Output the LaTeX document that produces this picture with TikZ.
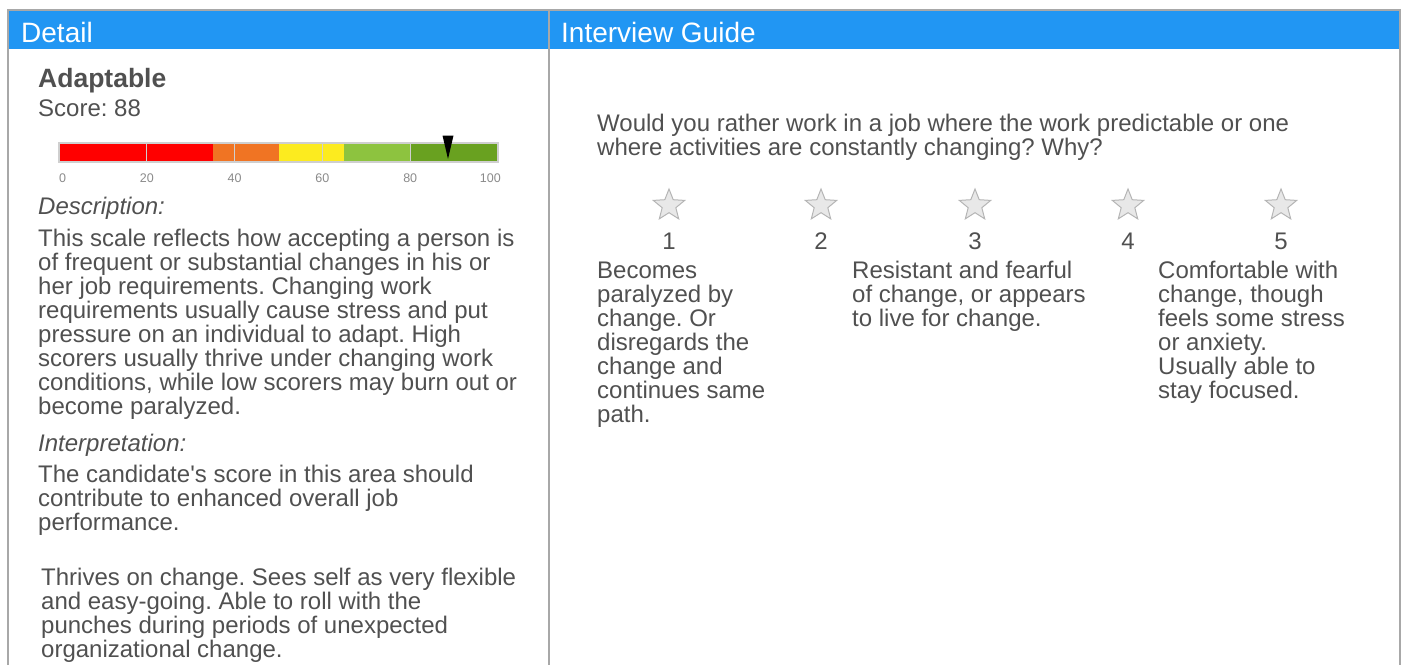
\documentclass[tikz,border=0pt]{standalone}
\usepackage{fontspec}
\setmainfont{Liberation Sans}
\usetikzlibrary{shapes.geometric}
\frenchspacing

\definecolor{headblue}{HTML}{2196F3}
\definecolor{framegray}{HTML}{A8A8A8}
\definecolor{txtgray}{HTML}{505050}
\definecolor{tickgray}{HTML}{8A8A8A}
\definecolor{sepgray}{HTML}{CFCFCF}
\definecolor{stargray}{HTML}{B5B5B5}
\definecolor{starfill}{HTML}{E8E8E8}
\definecolor{barred}{HTML}{FF0000}
\definecolor{barorange}{HTML}{F07423}
\definecolor{baryellow}{HTML}{FCEB1F}
\definecolor{barlight}{HTML}{8DC33F}
\definecolor{bardark}{HTML}{69A120}

\begin{document}
\begin{tikzpicture}[x=1pt, y=-1pt,
        txt/.style={anchor=base west, inner sep=0pt, align=left, text=txtgray,
            font=\fontsize{24}{24}\selectfont},
        head/.style={anchor=base west, inner sep=0pt, text=white,
            font=\fontsize{28}{28}\selectfont},
        tick/.style={anchor=base, inner sep=0pt, text=tickgray,
            font=\fontsize{12.5}{12.5}\selectfont},
        num/.style={anchor=base, inner sep=0pt, text=txtgray,
            font=\fontsize{24}{24}\selectfont},
        rating/.style={shape=star, star points=5, star point ratio=2.3,
            draw=stargray, fill=starfill, line width=1pt,
            minimum size=33pt, inner sep=0pt}]
        \useasboundingbox (0, 0) rectangle (1404, 665);

        % header bands and frame
        \fill[headblue] (9, 10.5) rectangle (1399, 49);
        \draw[framegray, line width=2pt] (8, 665) -- (8, 9.5) -- (1400, 9.5) -- (1400, 665);
        \draw[framegray, line width=2pt] (549, 9.5) -- (549, 665);

        \node[head] (detailhead) at (21, 42) {Detail};
        \node[head] (guidehead) at (561, 42) {Interview Guide};

        % left panel (multi-line texts sit on their last baseline)
        \node[txt, font=\bfseries\fontsize{26.5}{26.5}\selectfont] (trait) at (38, 87) {Adaptable};
        \node[txt] (score) at (38, 116) {Score: 88};

        % score bar
        \fill[barred] (59, 143) rectangle (212.7, 162);
        \fill[barorange] (212.7, 143) rectangle (278.5, 162);
        \fill[baryellow] (278.5, 143) rectangle (344.4, 162);
        \fill[barlight] (344.4, 143) rectangle (410.2, 162);
        \fill[bardark] (410.2, 143) rectangle (498, 162);
        \draw[sepgray, line width=1.2pt] (146.8, 143) -- (146.8, 162);
        \draw[sepgray, line width=1.2pt] (234.6, 143) -- (234.6, 162);
        \draw[sepgray, line width=1.2pt] (322.4, 143) -- (322.4, 162);
        \draw[sepgray, line width=1.2pt] (410.2, 143) -- (410.2, 162);
        \draw[sepgray, line width=1.2pt] (59, 143) rectangle (498, 162);
        \fill[black] (442.5, 135.5) -- (453.5, 135.5) -- (448, 159) -- cycle;

        \node[tick, anchor=base west] (t0) at (59, 182.5) {0};
        \node[tick] (t20) at (146.8, 182.5) {20};
        \node[tick] (t40) at (234.6, 182.5) {40};
        \node[tick] (t60) at (322.4, 182.5) {60};
        \node[tick] (t80) at (410.2, 182.5) {80};
        \node[tick, anchor=base east] (t100) at (501, 182.5) {100};

        \node[txt, font=\itshape\fontsize{24}{24}\selectfont] (desclabel) at (38, 214) {Description:};
        \node[txt] (desc) at (38, 414) {This scale reflects how accepting a person is\\
            of frequent or substantial changes in his or\\
            her job requirements. Changing work\\
            requirements usually cause stress and put\\
            pressure on an individual to adapt. High\\
            scorers usually thrive under changing work\\
            conditions, while low scorers may burn out or\\
            become paralyzed.};

        \node[txt, font=\itshape\fontsize{24}{24}\selectfont] (interplabel) at (38, 451) {Interpretation:};
        \node[txt] (interp) at (38, 530) {The candidate\textquotesingle s score in this area should\\
            contribute to enhanced overall job\\
            performance.};

        \node[txt] (verdict) at (41, 657) {Thrives on change. Sees self as very flexible\\
            and easy-going. Able to roll with the\\
            punches during periods of unexpected\\
            organizational change.};

        % right panel
        \node[txt] (question) at (597, 155) {Would you rather work in a job where the work predictable or one\\
            where activities are constantly changing? Why?};

        \node[rating] (star1) at (669, 205.5) {};
        \node[rating] (star2) at (821, 205.5) {};
        \node[rating] (star3) at (975, 205.5) {};
        \node[rating] (star4) at (1128, 205.5) {};
        \node[rating] (star5) at (1281, 205.5) {};

        \node[num] (n1) at (669, 249) {1};
        \node[num] (n2) at (821, 249) {2};
        \node[num] (n3) at (975, 249) {3};
        \node[num] (n4) at (1128, 249) {4};
        \node[num] (n5) at (1281, 249) {5};

        \node[txt] (low) at (597, 422) {Becomes\\paralyzed by\\change. Or\\disregards the\\
            change and\\continues same\\path.};
        \node[txt] (mid) at (852, 326) {Resistant and fearful\\of change, or appears\\
            to live for change.};
        \node[txt] (high) at (1158, 398) {Comfortable with\\change, though\\
            feels some stress\\or anxiety.\\Usually able to\\stay focused.};

    \end{tikzpicture}
\end{document}
